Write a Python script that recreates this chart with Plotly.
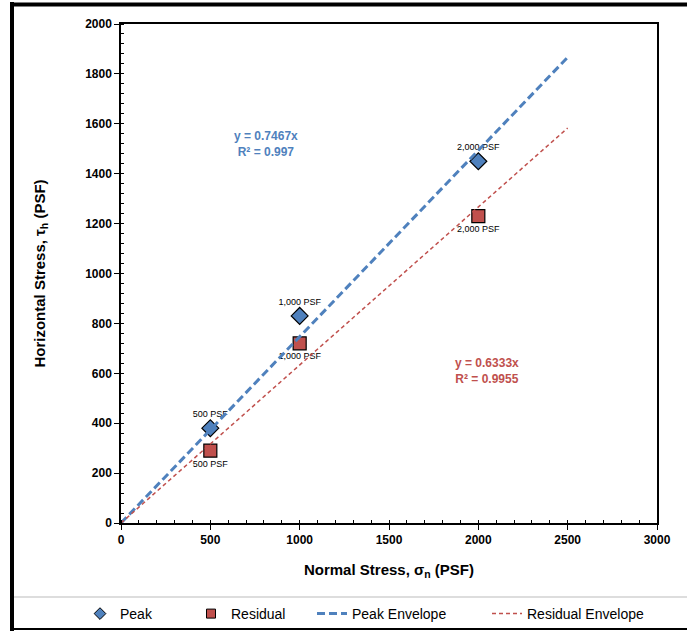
import plotly.graph_objects as go

normal_stress = [500, 1000, 2000]
peak_stress = [380, 830, 1450]
residual_stress = [290, 720, 1230]
point_labels = ["500 PSF", "1,000 PSF", "2,000 PSF"]
env_x = [0, 2500]
peak_slope = 0.7467
residual_slope = 0.6333

BLUE = "#4F81BD"
RED = "#C0504D"
FONT = "Liberation Sans, Arial, sans-serif"

fig = go.Figure()
fig.add_trace(go.Scatter(
    x=normal_stress, y=peak_stress, mode="markers+text", name="Peak", showlegend=False,
    text=point_labels, textposition="top center",
    textfont=dict(size=9, color="#000", family=FONT),
    marker=dict(symbol="diamond", size=13, color=BLUE, line=dict(color="#000", width=1.2)),
))
fig.add_trace(go.Scatter(
    x=normal_stress, y=residual_stress, mode="markers+text", name="Residual", showlegend=False,
    text=point_labels, textposition="bottom center",
    textfont=dict(size=9, color="#000", family=FONT),
    marker=dict(symbol="square", size=13, color=RED, line=dict(color="#000", width=1.2)),
))
fig.add_trace(go.Scatter(
    x=env_x, y=[peak_slope * v for v in env_x], mode="lines", name="Peak Envelope",
    line=dict(color=BLUE, width=3, dash="8px,4px"), legend="legend3",
))
fig.add_trace(go.Scatter(
    x=env_x, y=[residual_slope * v for v in env_x], mode="lines", name="Residual Envelope",
    line=dict(color=RED, width=1.5, dash="4px,3px"), legend="legend4",
))
# legend-only entries with small symbols, as in the reference legend
fig.add_trace(go.Scatter(
    x=[None], y=[None], mode="markers", name="Peak", legend="legend",
    marker=dict(symbol="diamond", size=9, color=BLUE, line=dict(color="#000", width=1)),
))
fig.add_trace(go.Scatter(
    x=[None], y=[None], mode="markers", name="Residual", legend="legend2",
    marker=dict(symbol="square", size=9, color=RED, line=dict(color="#000", width=1)),
))

fig.add_annotation(x=810, y=1520, xref="x", yref="y", showarrow=False,
                   text="<b>y = 0.7467x<br>R² = 0.997</b>",
                   font=dict(size=12, color=BLUE, family=FONT), align="center")
fig.add_annotation(x=2050, y=610, xref="x", yref="y", showarrow=False,
                   text="<b>y = 0.6333x<br>R² = 0.9955</b>",
                   font=dict(size=12, color=RED, family=FONT), align="center")

axis_common = dict(
    showgrid=False, zeroline=False, showline=True, linecolor="#000", linewidth=1.5,
    mirror=True, ticks="outside", ticklen=5, tickcolor="#000", automargin=False,
    tickfont=dict(size=12, color="#000", family=FONT, weight="bold"),
)
fig.update_xaxes(range=[0, 3000], dtick=500, tick0=0,
                 minor=dict(dtick=100, ticks="inside", ticklen=3, tickcolor="#000"),
                 title=dict(text="<b>Normal Stress, σ<sub>n</sub> (PSF)</b>",
                            font=dict(size=15, color="#000", family=FONT), standoff=18),
                 **axis_common)
fig.update_yaxes(range=[0, 2000], dtick=200, tick0=0,
                 minor=dict(dtick=40, ticks="inside", ticklen=3, tickcolor="#000"),
                 title=dict(text="<b>Horizontal Stress, τ<sub>h</sub> (PSF)</b>",
                            font=dict(size=15, color="#000", family=FONT), standoff=36),
                 **axis_common)

# body margin removed by post_script, so page pixels == figure pixels
W, H = 687, 631
L, R, T, B = 121, W - 657, 24, H - 523
pw, ph = W - L - R, H - T - B

def px(x):
    return (x - L) / pw

def py(y):
    return (H - B - y) / ph

shapes = [
    dict(type="line", xref="paper", yref="paper", x0=px(12), x1=px(12), y0=py(2), y1=py(H),
         line=dict(color="#000", width=4)),
    dict(type="line", xref="paper", yref="paper", x0=px(10), x1=px(W), y0=py(4.5), y1=py(4.5),
         line=dict(color="#000", width=4)),
    dict(type="line", xref="paper", yref="paper", x0=px(10), x1=px(W), y0=py(629), y1=py(629),
         line=dict(color="#000", width=2)),
    dict(type="line", xref="paper", yref="paper", x0=px(14), x1=px(W), y0=py(597), y1=py(597),
         line=dict(color="#BBBBBB", width=1)),
]

def leg(xpix):
    return dict(orientation="h", xref="container", yref="container",
                x=xpix / W, y=(H - 614) / H, xanchor="left", yanchor="middle",
                font=dict(size=14, color="#000", family=FONT), bgcolor="rgba(0,0,0,0)",
                itemwidth=30)

fig.update_layout(
    width=W, height=H, margin=dict(l=L, r=R, t=T, b=B, autoexpand=False),
    paper_bgcolor="white", plot_bgcolor="white",
    font=dict(family=FONT, color="#000"),
    shapes=shapes,
    showlegend=True,
    legend=leg(80), legend2=leg(191), legend3=leg(312), legend4=leg(487),
)

fig.write_html(
    "out.html",
    config={"displayModeBar": False},
    post_script="document.body.style.margin='0';document.body.style.overflow='hidden';"
                "document.documentElement.style.overflow='hidden';",
)
